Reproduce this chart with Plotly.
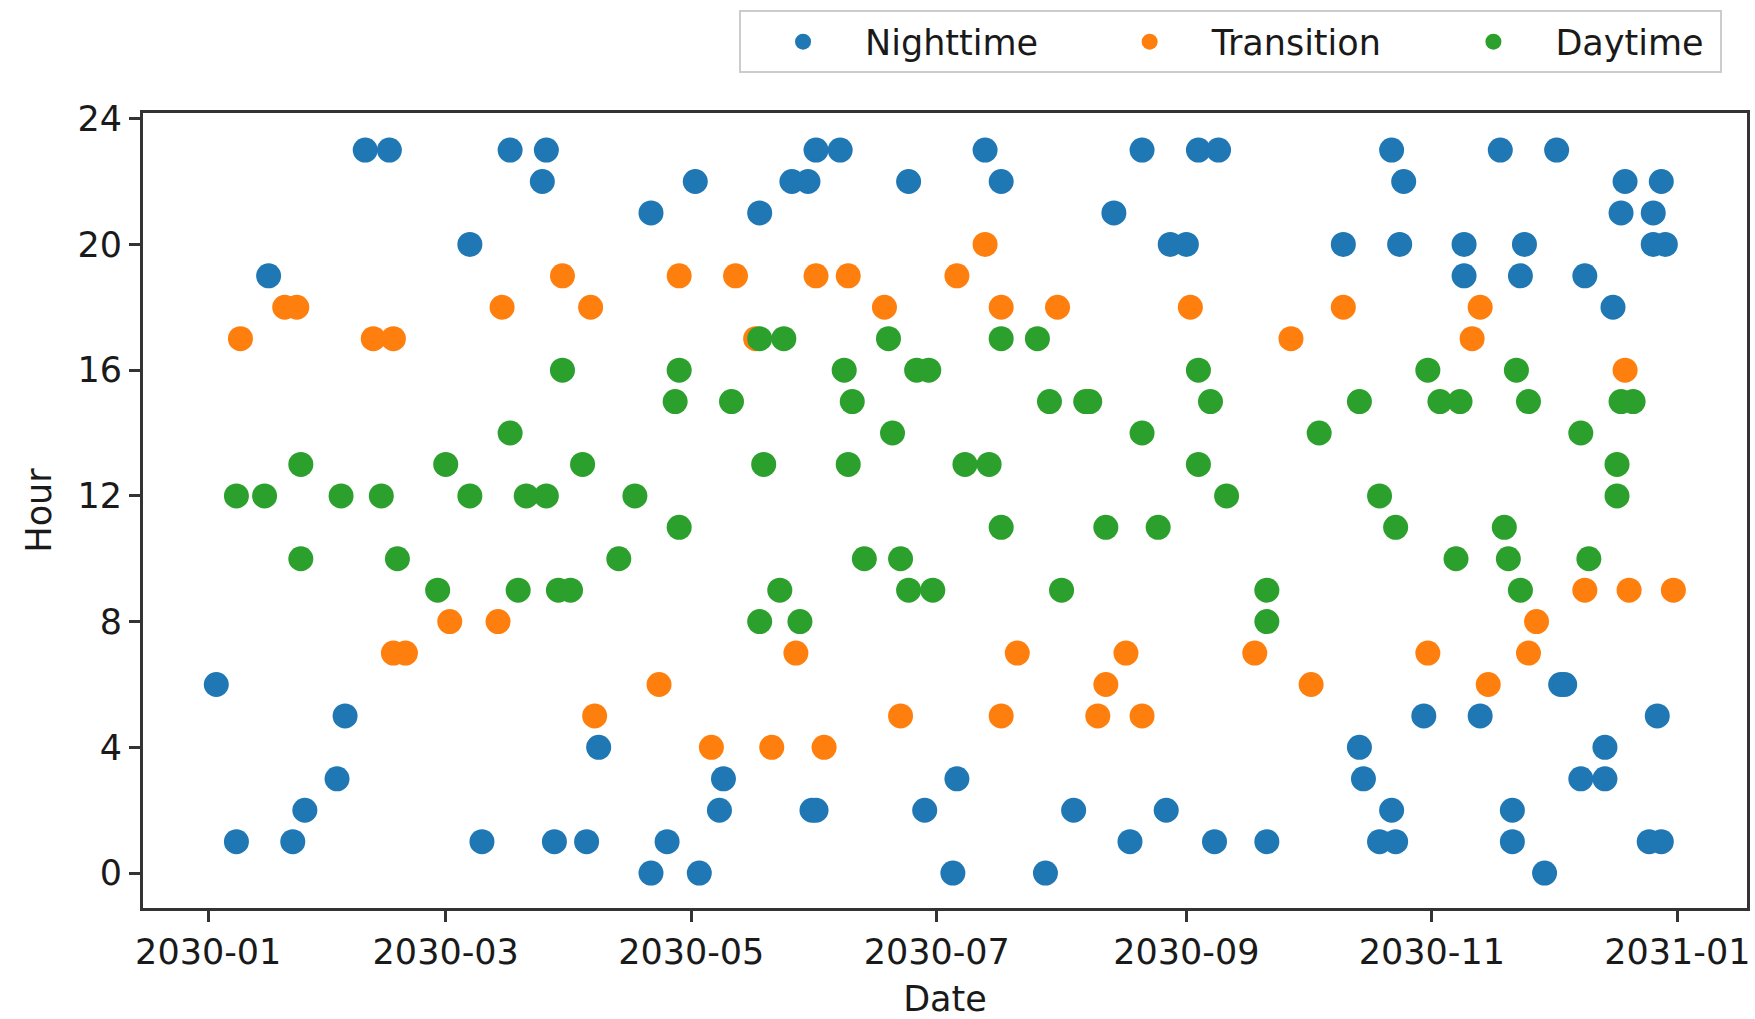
import plotly.graph_objects as go

night_dates = ["2030-01-03","2030-01-08","2030-01-16","2030-01-22","2030-01-25","2030-02-02","2030-02-04","2030-02-09","2030-02-15",
               "2030-03-07","2030-03-10","2030-03-17","2030-03-25","2030-03-26","2030-03-28","2030-04-05","2030-04-08","2030-04-21",
               "2030-04-21","2030-04-25","2030-05-02","2030-05-03","2030-05-08","2030-05-09","2030-05-18","2030-05-26","2030-05-30",
               "2030-05-31","2030-06-01","2030-06-01","2030-06-07","2030-06-24","2030-06-28","2030-07-05","2030-07-06","2030-07-13",
               "2030-07-17","2030-07-28","2030-08-04","2030-08-14","2030-08-18","2030-08-21","2030-08-27","2030-08-28","2030-09-01",
               "2030-09-04","2030-09-08","2030-09-09","2030-09-21","2030-10-10","2030-10-14","2030-10-15","2030-10-19","2030-10-23",
               "2030-10-22","2030-10-22","2030-10-25","2030-10-24","2030-10-30","2030-11-09","2030-11-09","2030-11-13","2030-11-18",
               "2030-11-21","2030-11-21","2030-11-24","2030-11-23","2030-11-29","2030-12-02","2030-12-03","2030-12-04","2030-12-08",
               "2030-12-09","2030-12-14","2030-12-14","2030-12-16","2030-12-19","2030-12-18","2030-12-25","2030-12-28","2030-12-26",
               "2030-12-26","2030-12-29","2030-12-28","2030-12-27"]
night_hours = [6, 1, 19, 1, 2, 3, 5, 23, 23,
               20, 1, 23, 22, 23, 1, 1, 4, 0,
               21, 1, 22, 0, 2, 3, 21, 22, 22,
               2, 2, 23, 23, 22, 2, 0, 3, 23,
               22, 0, 2, 21, 1, 23, 2, 20, 20,
               23, 1, 23, 1, 20, 4, 3, 1, 1,
               2, 23, 22, 20, 5, 20, 19, 5, 23,
               2, 1, 20, 19, 0, 23, 6, 6, 3,
               19, 3, 4, 18, 22, 21, 1, 1, 21,
               20, 20, 22, 5]

trans_dates = ["2030-01-09","2030-01-20","2030-01-23","2030-02-11","2030-02-16","2030-02-16","2030-02-19","2030-03-02","2030-03-14",
               "2030-03-15","2030-03-30","2030-04-06","2030-04-07","2030-04-23","2030-04-28","2030-05-06","2030-05-12","2030-05-17",
               "2030-05-21","2030-05-27","2030-06-01","2030-06-03","2030-06-09","2030-06-18","2030-06-22","2030-07-06","2030-07-13",
               "2030-07-17","2030-07-17","2030-07-21","2030-07-31","2030-08-10","2030-08-12","2030-08-17","2030-08-21","2030-09-02",
               "2030-09-18","2030-09-27","2030-10-02","2030-10-10","2030-10-31","2030-11-11","2030-11-13","2030-11-15","2030-11-25",
               "2030-11-27","2030-12-09","2030-12-19","2030-12-20","2030-12-31"]
trans_hours = [17, 18, 18, 17, 17, 7, 7, 8, 8,
               18, 19, 18, 5, 6, 19, 4, 19, 17,
               4, 7, 19, 4, 19, 18, 5, 19, 20,
               18, 5, 7, 18, 5, 6, 7, 5, 18,
               7, 17, 6, 18, 7, 17, 18, 6, 7,
               8, 9, 16, 9, 9]

day_dates = ["2030-01-08","2030-01-15","2030-01-24","2030-01-24","2030-02-03","2030-02-13","2030-02-17","2030-02-27","2030-03-01",
             "2030-03-07","2030-03-17","2030-03-19","2030-03-21","2030-03-26","2030-03-29","2030-04-01","2030-03-30","2030-04-04",
             "2030-04-13","2030-04-17","2030-04-27","2030-04-28","2030-04-28","2030-05-11","2030-05-18","2030-05-18","2030-05-19",
             "2030-05-23","2030-05-24","2030-05-28","2030-06-08","2030-06-09","2030-06-10","2030-06-13","2030-06-19","2030-06-20",
             "2030-06-22","2030-06-24","2030-06-26","2030-06-29","2030-06-30","2030-07-08","2030-07-14","2030-07-17","2030-07-17",
             "2030-07-26","2030-07-29","2030-08-01","2030-08-07","2030-08-08","2030-08-12","2030-08-21","2030-08-25","2030-09-04",
             "2030-09-04","2030-09-07","2030-09-11","2030-09-21","2030-09-21","2030-10-04","2030-10-14","2030-10-19","2030-10-23",
             "2030-10-31","2030-11-03","2030-11-08","2030-11-07","2030-11-19","2030-11-20","2030-11-22","2030-11-23","2030-11-25",
             "2030-12-08","2030-12-10","2030-12-17","2030-12-17","2030-12-18","2030-12-21"]
day_hours = [12, 12, 13, 10, 12, 12, 10, 9, 13,
             12, 14, 9, 12, 12, 9, 9, 16, 13,
             10, 12, 15, 16, 11, 15, 17, 8, 13,
             9, 17, 8, 16, 13, 15, 10, 17, 14,
             10, 9, 16, 16, 9, 13, 13, 17, 11,
             17, 15, 9, 15, 15, 11, 14, 11, 16,
             13, 15, 12, 9, 8, 14, 15, 12, 11,
             16, 15, 15, 10, 11, 10, 16, 9, 15,
             14, 10, 13, 12, 15, 15]

series_names = ["Nighttime", "Transition", "Daytime"]
series_colors = ["#1f77b4", "#ff7f0e", "#2ca02c"]

x_tick_vals = ["2030-01-01", "2030-03-01", "2030-05-01", "2030-07-01", "2030-09-01", "2030-11-01", "2031-01-01"]
x_tick_text = ["2030-01", "2030-03", "2030-05", "2030-07", "2030-09", "2030-11", "2031-01"]
y_tick_vals = [0, 4, 8, 12, 16, 20, 24]

FONT = "DejaVu Sans"
fs = 35
TXT = "#1a1a1a"
PAD = "\u00a0" * 4  # spacing after legend labels (matplotlib-like column gap)

fig = go.Figure()
data = [(night_dates, night_hours), (trans_dates, trans_hours), (day_dates, day_hours)]
for i, (name, (xs, ys), col) in enumerate(zip(series_names, data, series_colors)):
    label = name + (PAD if i < len(series_names) - 1 else "\u00a0")
    fig.add_trace(go.Scatter(x=xs, y=ys, mode="markers", name=label,
                             marker=dict(color=col, size=25, line=dict(width=0))))

fig.update_layout(
    width=1755, height=1019,
    margin=dict(l=143, r=8, t=113, b=111, autoexpand=False),
    plot_bgcolor="white", paper_bgcolor="white",
    font=dict(family=FONT, size=fs, color=TXT),
    showlegend=True,
    legend=dict(orientation="h", xanchor="left", yanchor="top", x=0.3716, y=1.129,
                bordercolor="#cccccc", borderwidth=2, bgcolor="white",
                font=dict(family=FONT, size=fs, color=TXT),
                itemwidth=114, itemsizing="trace"),
    xaxis=dict(type="date", range=["2029-12-15 19:00", "2031-01-18 07:00"],
               tickvals=x_tick_vals, ticktext=x_tick_text,
               showgrid=False, zeroline=False, showline=True, mirror=True,
               linecolor="#333", linewidth=3, ticks="outside", ticklen=11, tickwidth=3, tickcolor="#333",
               title=dict(text="Date", standoff=18, font=dict(family=FONT, size=fs, color=TXT))),
    yaxis=dict(range=[-1.11, 24.18], tickvals=y_tick_vals,
               showgrid=False, zeroline=False, showline=True, mirror=True,
               linecolor="#333", linewidth=3, ticks="outside", ticklen=11, tickwidth=3, tickcolor="#333",
               title=dict(text="Hour", standoff=16, font=dict(family=FONT, size=fs, color=TXT))),
)

fig.write_html("out.html")
